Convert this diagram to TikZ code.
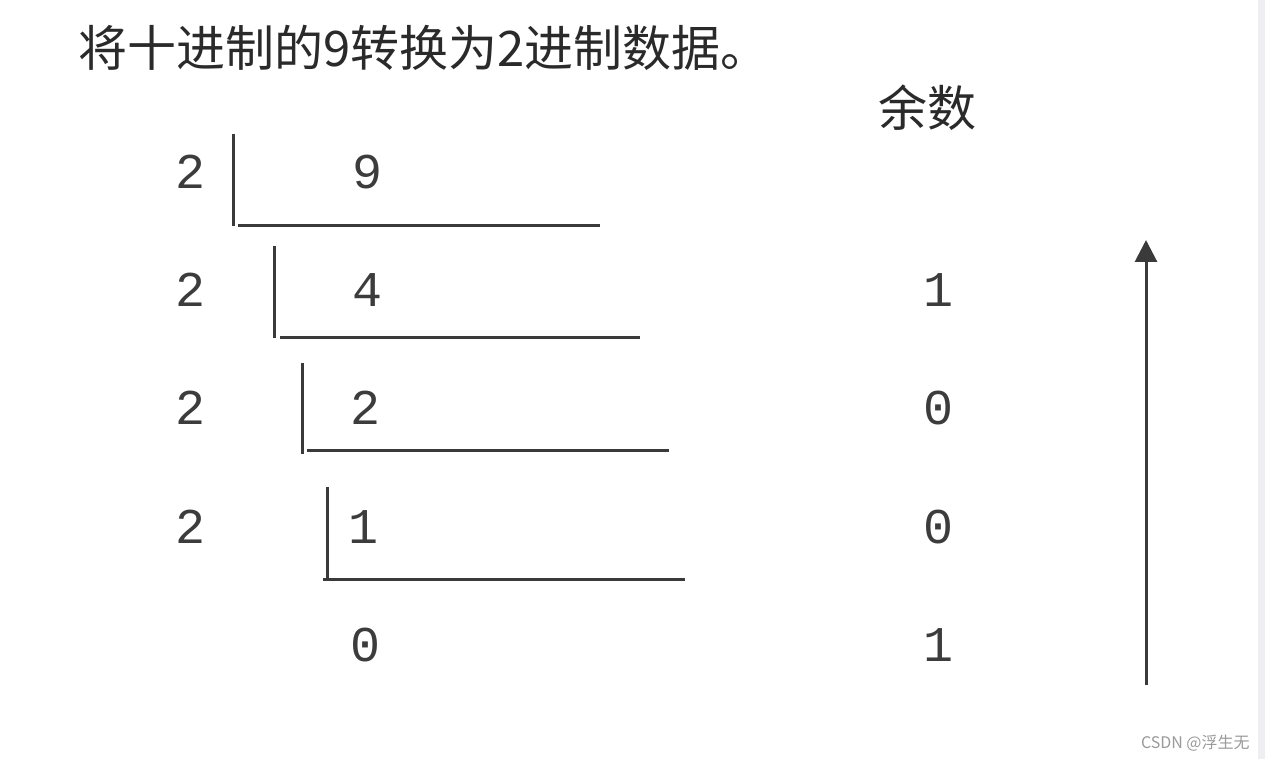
\documentclass[tikz,border=0pt]{standalone}
\usepackage{fontspec}
\usetikzlibrary{arrows.meta}
\newfontfamily\cjkfont{Noto Sans CJK SC}
\newfontfamily\digfont{Liberation Mono}
\definecolor{ink}{HTML}{2A2A2A}
\definecolor{digc}{HTML}{3C3C3C}
\definecolor{linec}{HTML}{3A3A3A}
\definecolor{strip}{HTML}{EEEEF3}
\definecolor{wm}{HTML}{9A9A9A}
\tikzset{
  dig/.style={font=\digfont\fontsize{25}{25}\selectfont, text=digc, inner sep=0pt, anchor=center},
  cjk/.style={font=\cjkfont\fontsize{24.5}{24.5}\selectfont, text=ink, inner sep=0pt},
  divline/.style={draw=linec, line width=1.5pt},
}
\begin{document}
\begin{tikzpicture}[x=0.5pt,y=-0.5pt]
\useasboundingbox (0,0) rectangle (1265,759);
\fill[white] (0,0) rectangle (1265,759);
\fill[strip] (1258,0) rectangle (1265,759);
% title
\node[cjk, anchor=west] (title) at (78,48) {将十进制的9转换为2进制数据。};
\node[cjk] (rem) at (927,108) {余数};
% divisors
\node[dig] (d1) at (191,172) {2};
\node[dig] (d2) at (191,290) {2};
\node[dig] (d3) at (191,408) {2};
\node[dig] (d4) at (191,527) {2};
% quotients
\node[dig] (q0) at (367,172) {9};
\node[dig] (q1) at (367,290) {4};
\node[dig] (q2) at (366,408) {2};
\node[dig] (q3) at (363,527) {1};
\node[dig] (q4) at (366,645) {0};
% remainders
\node[dig] (r1) at (938,290) {1};
\node[dig] (r2) at (938,408) {0};
\node[dig] (r3) at (938,527) {0};
\node[dig] (r4) at (938,645) {1};
% division brackets
\draw[divline] (233,134) -- (233,226);
\draw[divline] (238,226) -- (600,226);
\draw[divline] (274,246) -- (274,338);
\draw[divline] (280,338) -- (640,338);
\draw[divline] (302,363) -- (302,454);
\draw[divline] (307,451) -- (669,451);
\draw[divline] (327,487) -- (327,579);
\draw[divline] (323,579) -- (685,579);
% arrow
\coordinate (abot) at (1146,685);
\coordinate (atop) at (1146,240);
\draw[draw=linec, line width=1.5pt, -{Triangle[width=11pt,length=11pt]}] (abot) -- (atop);
% watermark
\node[font=\cjkfont\fontsize{8}{8}\selectfont, text=wm, anchor=east, inner sep=0pt] (wmk) at (1250,743) {CSDN @浮生无};
\end{tikzpicture}
\end{document}
